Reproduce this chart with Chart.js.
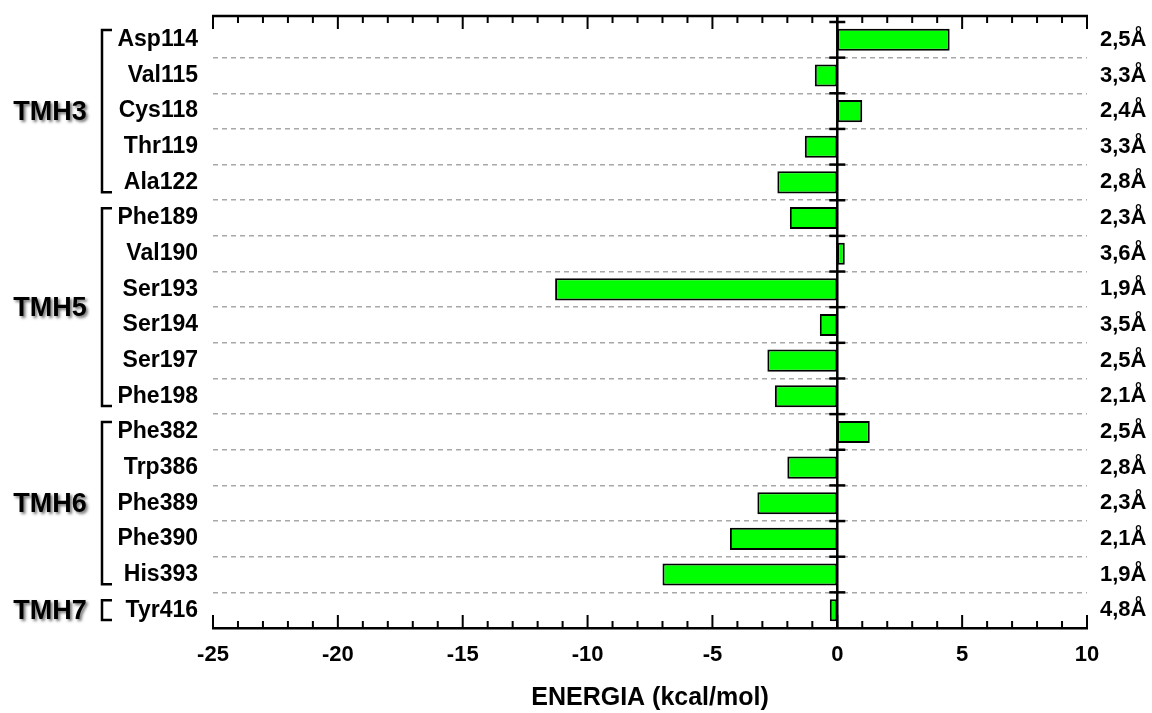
<!DOCTYPE html>
<html>
<head>
<meta charset="utf-8">
<script src="https://cdn.jsdelivr.net/npm/chart.js@4.4.1/dist/chart.umd.min.js"></script>
<style>
  body { margin: 0; background: #fff; }
  #wrap { width: 1152px; height: 713px; }
</style>
</head>
<body>
<div id="wrap"><canvas id="myChart" width="1152" height="713"></canvas></div>
<script>
const residues = ['Asp114', 'Val115', 'Cys118', 'Thr119', 'Ala122',
  'Phe189', 'Val190', 'Ser193', 'Ser194', 'Ser197', 'Phe198',
  'Phe382', 'Trp386', 'Phe389', 'Phe390', 'His393', 'Tyr416']
const energy = [4.5, -0.9, 1.0, -1.3, -2.4,
  -1.9, 0.3, -11.3, -0.7, -2.8, -2.5,
  1.3, -2.0, -3.2, -4.3, -7.0, -0.3]
const distances = ['2,5Å', '3,3Å', '2,4Å', '3,3Å', '2,8Å',
  '2,3Å', '3,6Å', '1,9Å', '3,5Å', '2,5Å', '2,1Å',
  '2,5Å', '2,8Å', '2,3Å', '2,1Å', '1,9Å', '4,8Å']
const helixNames = ['TMH3', 'TMH5', 'TMH6', 'TMH7']
const helixFirst = ['Asp114', 'Phe189', 'Phe382', 'Tyr416']
const helixLast = ['Ala122', 'Phe198', 'His393', 'Tyr416']
const xMin = -25
const xMax = 10
const xStep = 5

const FONT = '"Liberation Sans", Arial, sans-serif'

// axis on top + inward ticks + zero line + helix brackets
const decorPlugin = {
  id: 'decor',
  afterDatasetsDraw(chart) {
    const { ctx, chartArea } = chart
    const x = chart.scales.x
    const y = chart.scales.y
    const topY = chartArea.top - 6
    const botY = chartArea.bottom
    const rowH = y.getPixelForValue(1) - y.getPixelForValue(0)

    ctx.save()
    ctx.strokeStyle = '#000'
    ctx.lineCap = 'butt'

    // top axis line
    ctx.lineWidth = 2.5
    ctx.beginPath()
    ctx.moveTo(chartArea.left - 1, topY)
    ctx.lineTo(chartArea.right + 1, topY)
    ctx.stroke()

    // inward ticks on both horizontal axes
    ctx.lineWidth = 2
    for (let v = xMin; v <= xMax; v++) {
      const px = x.getPixelForValue(v)
      const len = v % xStep === 0 ? 13 : 7
      ctx.beginPath()
      ctx.moveTo(px, topY)
      ctx.lineTo(px, topY + len)
      ctx.moveTo(px, botY)
      ctx.lineTo(px, botY - len)
      ctx.stroke()
    }

    // zero line with small ticks at each row boundary
    const x0 = x.getPixelForValue(0)
    ctx.lineWidth = 2.5
    ctx.beginPath()
    ctx.moveTo(x0, topY)
    ctx.lineTo(x0, botY)
    ctx.stroke()
    for (let i = 0; i < residues.length; i++) {
      const by = y.getPixelForValue(i) - rowH / 2
      ctx.beginPath()
      ctx.moveTo(x0 - 8, by)
      ctx.lineTo(x0 + 8, by)
      ctx.stroke()
    }

    // helix brackets and names
    const bx = 102
    helixNames.forEach((name, k) => {
      const i0 = residues.indexOf(helixFirst[k])
      const i1 = residues.indexOf(helixLast[k])
      const y0 = y.getPixelForValue(i0) - rowH / 2 + 8
      const y1 = y.getPixelForValue(i1) + rowH / 2 - 8
      ctx.lineWidth = 2.5
      ctx.beginPath()
      ctx.moveTo(bx + 10, y0)
      ctx.lineTo(bx, y0)
      ctx.lineTo(bx, y1)
      ctx.lineTo(bx + 10, y1)
      ctx.stroke()

      ctx.save()
      ctx.font = 'bold 27px ' + FONT
      ctx.fillStyle = '#000'
      ctx.textAlign = 'center'
      ctx.textBaseline = 'middle'
      ctx.shadowColor = 'rgba(0,0,0,0.55)'
      ctx.shadowBlur = 3
      ctx.shadowOffsetX = 2
      ctx.shadowOffsetY = 2
      ctx.fillText(name, 50, (y0 + y1) / 2 + 1)
      ctx.restore()
    })
    ctx.restore()
  }
}

const noPad = (s) => { s.paddingTop = 0; s.paddingBottom = 0 }

const data = {
  labels: residues,
  datasets: [{
    label: 'ENERGIA',
    data: energy,
    backgroundColor: '#00ff00',
    borderColor: '#000',
    borderWidth: 2,
    borderSkipped: false,
    barPercentage: 0.62,
    categoryPercentage: 1
  }]
}

const config = {
  type: 'bar',
  data,
  options: {
    indexAxis: 'y',
    responsive: false,
    animation: false,
    layout: { padding: { top: 22, left: 0, right: 0, bottom: 0 } },
    plugins: {
      legend: { display: false },
      tooltip: { enabled: false }
    },
    scales: {
      x: {
        min: xMin,
        max: xMax,
        ticks: {
          stepSize: xStep,
          color: '#000',
          padding: 14,
          font: { family: FONT, size: 22, weight: 'bold' }
        },
        grid: { display: false, drawTicks: false },
        border: { display: true, color: '#000', width: 2.5 },
        title: {
          display: true,
          text: 'ENERGIA (kcal/mol)',
          color: '#000',
          padding: { top: 0, bottom: 0 },
          font: { family: FONT, size: 25, weight: 'bold' }
        },
        afterFit: (s) => { s.height = 85 }
      },
      y: {
        offset: true,
        ticks: {
          color: '#000',
          padding: 15,
          font: { family: FONT, size: 23, weight: 'bold' }
        },
        grid: {
          offset: true,
          drawTicks: false,
          lineWidth: 1.5,
          color: (c) => c.index === 0 ? 'rgba(0,0,0,0)' : '#a8a8a8'
        },
        border: { display: false, dash: [5, 4] },
        afterFit: (s) => { s.width = 213; noPad(s) }
      },
      y2: {
        type: 'category',
        labels: distances,
        position: 'right',
        offset: true,
        ticks: {
          color: '#000',
          padding: 13,
          font: { family: FONT, size: 22, weight: 'bold' }
        },
        grid: { display: false, drawTicks: false },
        border: { display: false },
        afterFit: (s) => { s.width = 65; noPad(s) }
      }
    }
  },
  plugins: [decorPlugin]
}

const myCanvaChart = new Chart(document.getElementById('myChart'), config)
</script>
</body>
</html>
